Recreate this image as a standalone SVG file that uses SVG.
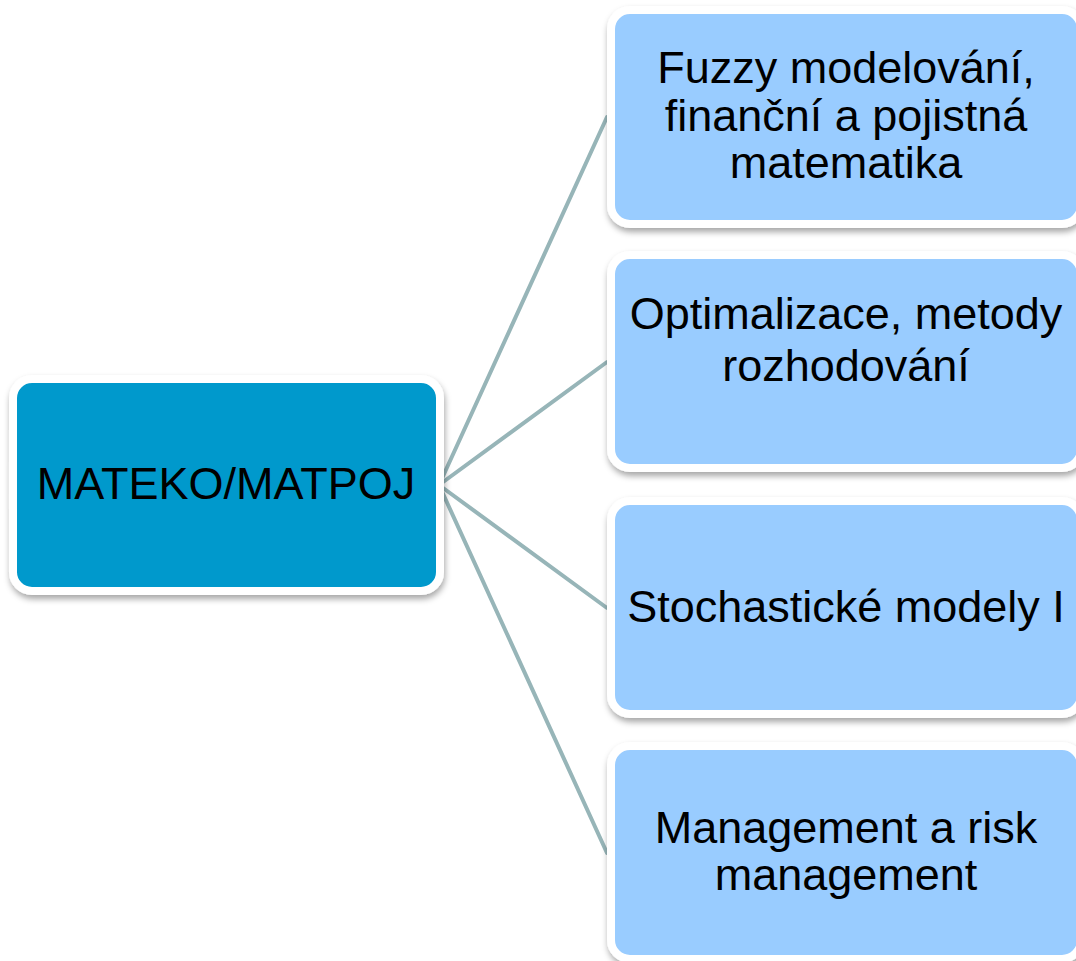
<svg xmlns="http://www.w3.org/2000/svg" width="1076" height="961" viewBox="0 0 1076 961">
  <defs>
    <filter id="sh" x="-10%" y="-10%" width="120%" height="130%">
      <feDropShadow dx="1" dy="4" stdDeviation="3" flood-color="#000" flood-opacity="0.35"/>
    </filter>
    <style>
      .conn { stroke: #97B5B8; stroke-width: 4; fill: none; stroke-linecap: round; }
      .root { fill: #0099CC; stroke: #FFFFFF; stroke-width: 8; filter: url(#sh); }
      .leaf { fill: #99CCFF; stroke: #FFFFFF; stroke-width: 8; filter: url(#sh); }
      text { font-family: "Liberation Sans", Arial, sans-serif; font-size: 45px; fill: #000; text-anchor: middle; }
    </style>
  </defs>
  <rect width="1076" height="961" fill="#FFFFFF"/>
  <g id="connectors">
    <line class="conn" x1="439" y1="485" x2="607" y2="117"/>
    <line class="conn" x1="439" y1="485" x2="607" y2="362"/>
    <line class="conn" x1="439" y1="485" x2="607" y2="608"/>
    <line class="conn" x1="439" y1="485" x2="607" y2="853"/>
  </g>
  <g id="node-root">
    <rect class="root" x="13" y="379" width="427" height="212" rx="19"/>
    <text x="226" y="499">MATEKO/MATPOJ</text>
  </g>
  <g id="node-fuzzy">
    <rect class="leaf" x="611" y="10" width="470" height="214" rx="19"/>
    <text x="846" y="83">Fuzzy modelování,</text>
    <text x="846" y="131">finanční a pojistná</text>
    <text x="846" y="178">matematika</text>
  </g>
  <g id="node-optim">
    <rect class="leaf" x="611" y="255" width="470" height="213" rx="19"/>
    <text x="846" y="329">Optimalizace, metody</text>
    <text x="846" y="381">rozhodování</text>
  </g>
  <g id="node-stoch">
    <rect class="leaf" x="611" y="501" width="470" height="213" rx="19"/>
    <text x="846" y="622">Stochastické modely I</text>
  </g>
  <g id="node-mgmt">
    <rect class="leaf" x="611" y="746" width="470" height="213" rx="19"/>
    <text x="846" y="843">Management a risk</text>
    <text x="846" y="890">management</text>
  </g>
</svg>
